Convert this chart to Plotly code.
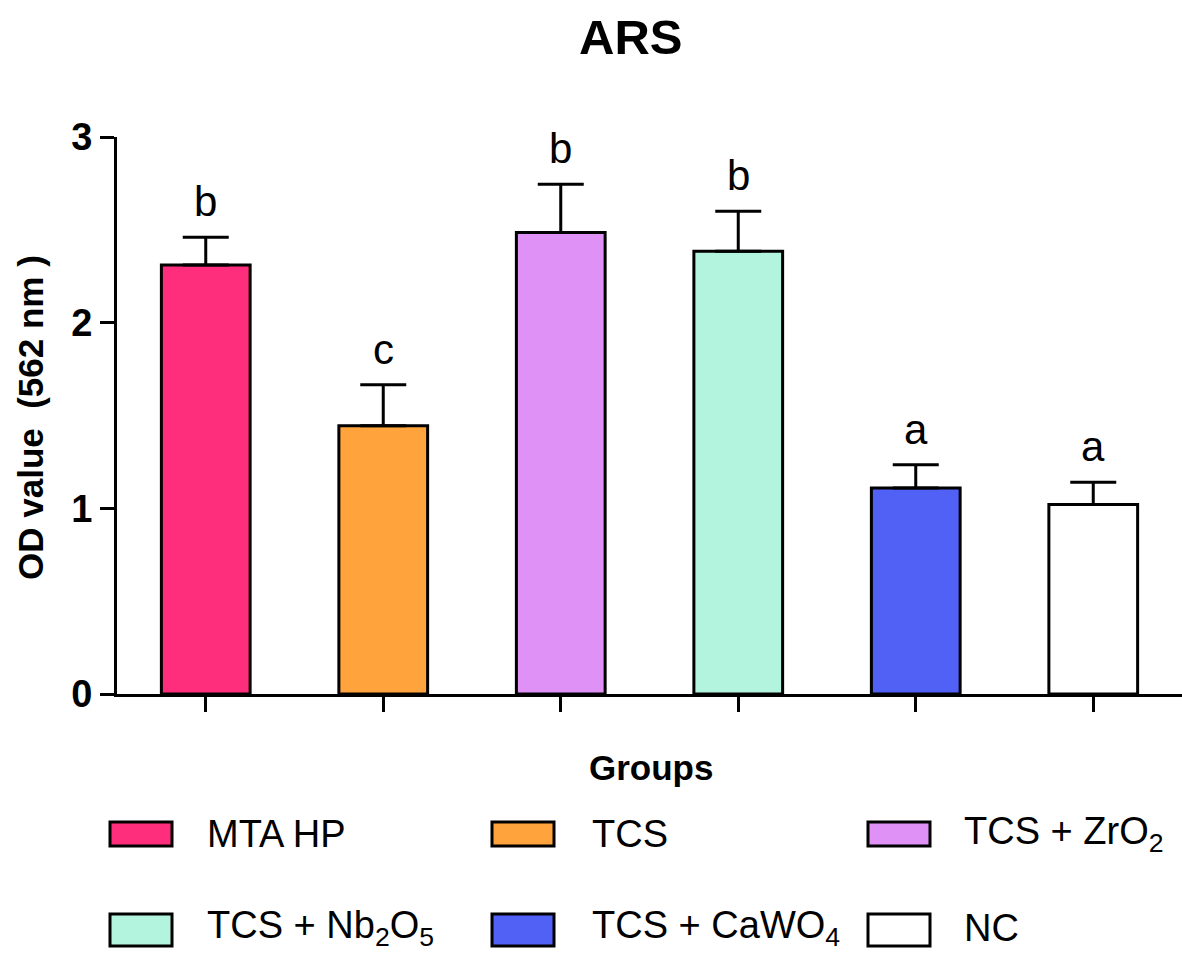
import plotly.graph_objects as go

# ---- data ----
categories = ["MTA HP", "TCS", "TCS + ZrO<sub>2</sub>", "TCS + Nb<sub>2</sub>O<sub>5</sub>",
              "TCS + CaWO<sub>4</sub>", "NC"]
means = [2.31, 1.445, 2.485, 2.385, 1.11, 1.02]
errors = [0.15, 0.22, 0.26, 0.215, 0.125, 0.12]
letters = ["b", "c", "b", "b", "a", "a"]
colors = ["#FF2E7C", "#FFA43C", "#E091F5", "#B3F4DE", "#5261F5", "#FFFFFF"]
y_ticks = [0, 1, 2, 3]

FONT = "Liberation Sans, Arial, sans-serif"
W, H = 1182, 953
L, R, T, B = 117, 0, 137, 259
PW, PH = W - L - R, H - T - B

def px(x):
    return (x - L) / PW

def py(y):
    return (H - B - y) / PH

xs = list(range(len(categories)))

fig = go.Figure()
fig.add_trace(go.Bar(
    x=xs, y=means, width=0.5,
    marker=dict(color=colors, line=dict(color="black", width=3)),
    error_y=dict(type="data", symmetric=False, array=errors,
                 arrayminus=[0] * len(errors), color="black",
                 thickness=3, width=23),
    showlegend=False,
))

annotations = []
for i, (m, e, t) in enumerate(zip(means, errors, letters)):
    annotations.append(dict(x=i, y=m + e, xref="x", yref="y", text=t,
                            showarrow=False, yanchor="bottom", yshift=10,
                            font=dict(family=FONT, size=42, color="black")))

# titles
annotations.append(dict(x=px(630), y=py(37), xref="paper", yref="paper",
                        text="<b>ARS</b>", showarrow=False,
                        xanchor="center", yanchor="middle",
                        font=dict(family=FONT, size=49, color="black")))
annotations.append(dict(x=px(30), y=py(418), xref="paper", yref="paper",
                        text="<b>OD value  (562 nm )</b>", showarrow=False,
                        textangle=-90, xanchor="center", yanchor="middle",
                        font=dict(family=FONT, size=35, color="black")))
annotations.append(dict(x=px(651), y=py(767), xref="paper", yref="paper",
                        text="<b>Groups</b>", showarrow=False,
                        xanchor="center", yanchor="middle",
                        font=dict(family=FONT, size=35, color="black")))

# manual legend (3 columns x 2 rows)
shapes = []
col_sw = [110, 492, 868]
col_tx = [205, 590, 962]
row_y = [834, 930]
row_txt_y = [834, 928]
sw_w = 62
row_h = [24, 32]
for i, (name, c) in enumerate(zip(categories, colors)):
    r, ccol = divmod(i, 3)
    x0 = col_sw[ccol]
    yc = row_y[r]
    hh = row_h[r]
    shapes.append(dict(type="rect", xref="paper", yref="paper",
                       x0=px(x0), x1=px(x0 + sw_w),
                       y0=py(yc + hh / 2), y1=py(yc - hh / 2),
                       fillcolor=c, line=dict(color="black", width=3)))
    annotations.append(dict(x=px(col_tx[ccol]), y=py(row_txt_y[r]), xref="paper", yref="paper",
                            text=name, showarrow=False, xanchor="left",
                            yanchor="middle",
                            font=dict(family=FONT, size=38, color="black")))

fig.update_layout(
    width=W, height=H,
    margin=dict(l=L, r=R, t=T, b=B, pad=0),
    plot_bgcolor="white", paper_bgcolor="white",
    annotations=annotations, shapes=shapes,
    xaxis=dict(range=[-0.5, len(categories) - 0.5], tickvals=xs,
               showticklabels=False, ticks="outside", ticklen=15,
               tickwidth=3, tickcolor="black", showline=True,
               linewidth=3, linecolor="black", showgrid=False,
               zeroline=False, fixedrange=True),
    yaxis=dict(range=[0, 3], tickvals=y_ticks,
               ticktext=[str(v) for v in y_ticks],
               ticks="outside", ticklen=14, tickwidth=3, tickcolor="black",
               tickfont=dict(family=FONT, size=38, color="black", weight="bold"),
               showline=True, linewidth=3, linecolor="black",
               showgrid=False, zeroline=False, fixedrange=True),
    bargap=0.5,
)

fig.write_html(
    "out.html",
    config={"displayModeBar": False},
    post_script="document.body.style.margin='0px';document.body.style.overflow='hidden';",
)
